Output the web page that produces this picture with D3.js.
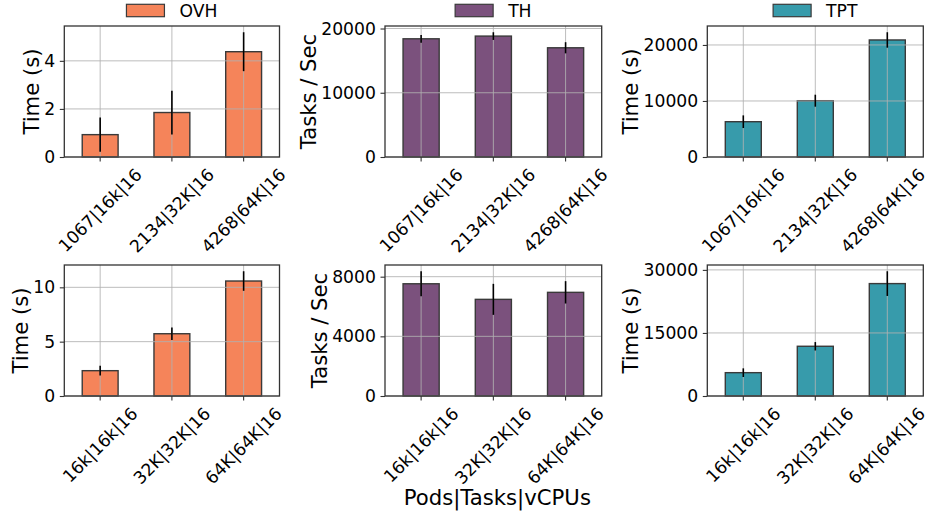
<!DOCTYPE html>
<html>
<head>
<meta charset="utf-8">
<script src="https://cdn.jsdelivr.net/npm/d3@7"></script>
<style>
  html, body { margin: 0; padding: 0; background: #fff; }
  svg { display: block; font-family: "DejaVu Sans", sans-serif; }
</style>
</head>
<body>
<svg id="chart" width="930" height="517"></svg>
<script>
// ---- data ----
const categoriesTop = ["1067|16k|16", "2134|32K|16", "4268|64K|16"];
const categoriesBottom = ["16k|16k|16", "32K|32K|16", "64K|64K|16"];

const ovhTop = [0.93, 1.85, 4.38];
const ovhTopErr = [0.71, 0.91, 0.81];
const thTop = [18400, 18820, 17000];
const thTopErr = [600, 600, 870];
const tptTop = [6300, 10050, 20890];
const tptTopErr = [1130, 1070, 1380];

const ovhBottom = [2.33, 5.73, 10.58];
const ovhBottomErr = [0.45, 0.57, 0.90];
const thBottom = [7525, 6480, 6950];
const thBottomErr = [840, 1040, 750];
const tptBottom = [5550, 11830, 26740];
const tptBottomErr = [1030, 1000, 2940];

const ticksOvhTop = [0, 2, 4];
const ticksThTop = [0, 10000, 20000];
const ticksTptTop = [0, 10000, 20000];
const ticksOvhBottom = [0, 5, 10];
const ticksThBottom = [0, 4000, 8000];
const ticksTptBottom = [0, 15000, 30000];

const seriesNames = ["OVH", "TH", "TPT"];
const yLabels = ["Time (s)", "Tasks / Sec", "Time (s)"];
const xAxisTitle = "Pods|Tasks|vCPUs";
const colors = ["#f5845a", "#7b517d", "#379bab"];

// ---- layout ----
const W = 930;
const cols = [[64.3, 279.5], [385, 601.7], [707.3, 923.3]];
const rows = [[26, 157], [265, 396]];
const tickFs = 17.2, labelFs = 21.2;
const tickLen = 4.5, tickPad = 4.6;

const svg = d3.select("#chart");

const panels = [
  {r: 0, c: 0, cats: categoriesTop, v: ovhTop, e: ovhTopErr, ticks: ticksOvhTop},
  {r: 0, c: 1, cats: categoriesTop, v: thTop, e: thTopErr, ticks: ticksThTop},
  {r: 0, c: 2, cats: categoriesTop, v: tptTop, e: tptTopErr, ticks: ticksTptTop},
  {r: 1, c: 0, cats: categoriesBottom, v: ovhBottom, e: ovhBottomErr, ticks: ticksOvhBottom},
  {r: 1, c: 1, cats: categoriesBottom, v: thBottom, e: thBottomErr, ticks: ticksThBottom},
  {r: 1, c: 2, cats: categoriesBottom, v: tptBottom, e: tptBottomErr, ticks: ticksTptBottom},
];

panels.forEach(p => {
  const [x0, x1] = cols[p.c];
  const [y0, y1] = rows[p.r];
  const g = svg.append("g");

  const x = d3.scaleBand().domain(p.cats).range([x0, x1]).paddingInner(0.5).paddingOuter(0.25);
  const ymax = d3.max(p.v.map((d, i) => d + p.e[i])) * 1.05;
  const y = d3.scaleLinear().domain([0, ymax]).range([y1, y0]);
  const cx = c => x(c) + x.bandwidth() / 2;

  // bars
  g.selectAll("rect.bar").data(p.cats).join("rect")
    .attr("x", c => x(c))
    .attr("width", x.bandwidth())
    .attr("y", (c, i) => y(p.v[i]))
    .attr("height", (c, i) => y1 - y(p.v[i]))
    .attr("fill", colors[p.c])
    .attr("stroke", "#3a3a3a")
    .attr("stroke-width", 1.4);

  // grid (drawn above bars)
  g.selectAll("line.gy").data(p.ticks).join("line")
    .attr("x1", x0).attr("x2", x1)
    .attr("y1", d => y(d)).attr("y2", d => y(d))
    .attr("stroke", "#b0b0b0").attr("stroke-opacity", 0.85).attr("stroke-width", 1);
  g.selectAll("line.gx").data(p.cats).join("line")
    .attr("x1", cx).attr("x2", cx)
    .attr("y1", y0).attr("y2", y1)
    .attr("stroke", "#b0b0b0").attr("stroke-opacity", 0.85).attr("stroke-width", 1);

  // error bars
  g.selectAll("line.err").data(p.cats).join("line")
    .attr("x1", cx).attr("x2", cx)
    .attr("y1", (c, i) => y(p.v[i] + p.e[i]))
    .attr("y2", (c, i) => y(p.v[i] - p.e[i]))
    .attr("stroke", "#000").attr("stroke-width", 1.6);

  // frame
  g.append("rect").attr("x", x0).attr("y", y0).attr("width", x1 - x0).attr("height", y1 - y0)
    .attr("fill", "none").attr("stroke", "#333").attr("stroke-width", 1.3);

  // y axis
  const ya = d3.axisLeft(y).tickValues(p.ticks).tickFormat(d3.format("d"))
    .tickSize(tickLen).tickPadding(tickPad);
  const yg = g.append("g").attr("transform", `translate(${x0},0)`).call(ya);
  yg.select(".domain").remove();
  yg.selectAll(".tick line").attr("stroke", "#333").attr("stroke-width", 1.1);
  yg.selectAll(".tick text").attr("font-size", tickFs).attr("fill", "#000")
    .attr("font-family", "DejaVu Sans");

  let maxW = 0;
  yg.selectAll(".tick text").each(function () { maxW = Math.max(maxW, this.getComputedTextLength()); });
  const labX = x0 - tickLen - tickPad - maxW - 5.5;
  g.append("text")
    .attr("transform", `translate(${labX},${(y0 + y1) / 2}) rotate(-90)`)
    .attr("text-anchor", "middle")
    .attr("font-size", labelFs)
    .text(yLabels[p.c]);

  // x axis
  const xa = d3.axisBottom(x).tickSize(tickLen).tickFormat(() => "");
  const xg = g.append("g").attr("transform", `translate(0,${y1})`).call(xa);
  xg.select(".domain").remove();
  xg.selectAll(".tick line").attr("stroke", "#333").attr("stroke-width", 1.1);

  // rotated tick labels (45°, centered bbox under tick, kept inside the canvas)
  p.cats.forEach(c => {
    const t = g.append("text").attr("font-size", tickFs).attr("text-anchor", "middle").text(c);
    const w = t.node().getComputedTextLength();
    const h = tickFs * 1.164;
    const s = (w + h) / Math.SQRT2;
    const top = y1 + tickLen + 3;
    const px = Math.min(cx(c), W - 1 - s / 2);
    t.attr("transform", `translate(${px},${top + s / 2}) rotate(-45)`)
      .attr("y", 0.346 * tickFs);
  });

  // legend for top row
  if (p.r === 0) {
    const center = (x0 + x1) / 2;
    const lt = g.append("text").attr("font-size", tickFs).text(seriesNames[p.c]);
    const tw = lt.node().getComputedTextLength();
    const pw = 38, gap = 15;
    const start = center - (pw + gap + tw) / 2;
    g.append("rect").attr("x", start).attr("y", 4.3).attr("width", pw).attr("height", 12.4)
      .attr("fill", colors[p.c]).attr("stroke", "#3a3a3a").attr("stroke-width", 1.2);
    lt.attr("x", start + pw + gap).attr("y", 17.4);
  }
});

// shared x title
svg.append("text")
  .attr("x", (cols[1][0] + cols[1][1]) / 2 + 4)
  .attr("y", 505)
  .attr("text-anchor", "middle")
  .attr("font-size", labelFs)
  .text(xAxisTitle);
</script>
</body>
</html>
